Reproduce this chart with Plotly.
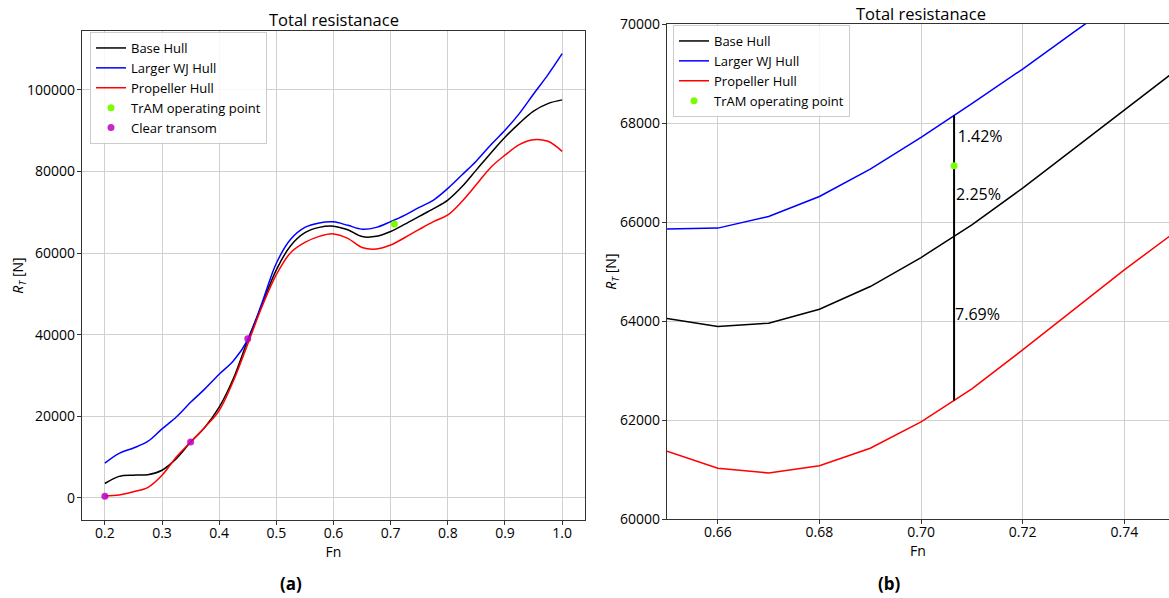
import plotly.graph_objects as go

# ---------------- data: panel (a) full range ----------------
fn_full = [0.200, 0.225, 0.250, 0.275, 0.300, 0.325, 0.350, 0.375, 0.400, 0.425,
           0.450, 0.475, 0.500, 0.525, 0.550, 0.575, 0.600, 0.625, 0.650, 0.675,
           0.700, 0.725, 0.750, 0.775, 0.800, 0.825, 0.850, 0.875, 0.900, 0.925,
           0.950, 0.975, 1.000]
base_full = [3500, 5250, 5550, 5650, 6750, 9600, 13650, 17300, 22200, 29300,
             38700, 47400, 55900, 61800, 65000, 66300, 66600, 65700, 64050, 64100,
             65280, 67080, 69000, 70900, 73000, 76300, 80400, 84500, 88400, 91800,
             94800, 96650, 97560]
wj_full = [8500, 10900, 12200, 13800, 16900, 19800, 23400, 26700, 30300, 33600,
           38700, 47800, 57500, 63400, 66300, 67400, 67650, 66800, 65860, 66300,
           67710, 69300, 71200, 73000, 75850, 79200, 82600, 86500, 90100, 94200,
           99000, 103700, 108900]
prop_full = [450, 700, 1500, 2500, 5500, 10000, 13650, 17300, 21400, 28700,
             37700, 46900, 54700, 60100, 62600, 64100, 64700, 63600, 61370, 61000,
             61970, 63820, 65800, 67700, 69340, 72700, 76800, 81000, 84000, 86600,
             87800, 87400, 84950]

tram_fn = [0.7065]
tram_rt = [67140]
clear_fn = [0.20, 0.35, 0.45]
clear_rt = [400, 13700, 39000]

# ---------------- data: panel (b) zoom ----------------
fn_zoom = [0.65, 0.66, 0.67, 0.68, 0.69, 0.70, 0.71, 0.72, 0.73, 0.74, 0.75]
base_zoom = [64053, 63891, 63960, 64242, 64699, 65285, 65945, 66687, 67475, 68270, 69050]
wj_zoom = [65859, 65879, 66113, 66517, 67071, 67709, 68390, 69091, 69830, 70560, 71300]
prop_zoom = [61374, 61030, 60935, 61083, 61434, 61966, 62632, 63420, 64230, 65036, 65800]

vline_fn = [0.7065, 0.7065]
vline_rt = [62399, 68152]

pct_labels = ["1.42%", "2.25%", "7.69%"]
pct_fn = [0.7072, 0.7069, 0.7067]
pct_rt = [67703, 66531, 64107]

x_ticks_a = [0.2, 0.3, 0.4, 0.5, 0.6, 0.7, 0.8, 0.9, 1.0]
y_ticks_a = [0, 20000, 40000, 60000, 80000, 100000]
x_ticks_b = [0.66, 0.68, 0.70, 0.72, 0.74]
y_ticks_b = [60000, 62000, 64000, 66000, 68000, 70000]

FONT = "Open Sans"
W, H = 1169, 598

fig = go.Figure()

# panel (a)
fig.add_trace(go.Scatter(x=fn_full, y=base_full, mode="lines", name="Base Hull",
                         line=dict(color="black", width=1.5, shape="spline"),
                         xaxis="x", yaxis="y", legend="legend"))
fig.add_trace(go.Scatter(x=fn_full, y=wj_full, mode="lines", name="Larger WJ Hull",
                         line=dict(color="#0000ff", width=1.5, shape="spline"),
                         xaxis="x", yaxis="y", legend="legend"))
fig.add_trace(go.Scatter(x=fn_full, y=prop_full, mode="lines", name="Propeller Hull",
                         line=dict(color="#ff0000", width=1.5, shape="spline"),
                         xaxis="x", yaxis="y", legend="legend"))
fig.add_trace(go.Scatter(x=tram_fn, y=tram_rt, mode="markers", name="TrAM operating point",
                         marker=dict(color="#7cfc00", size=7),
                         xaxis="x", yaxis="y", legend="legend"))
fig.add_trace(go.Scatter(x=clear_fn, y=clear_rt, mode="markers", name="Clear transom",
                         marker=dict(color="#bf00bf", size=7, opacity=0.85),
                         xaxis="x", yaxis="y", legend="legend"))

# panel (b)
fig.add_trace(go.Scatter(x=fn_zoom, y=base_zoom, mode="lines", name="Base Hull",
                         line=dict(color="black", width=1.5),
                         xaxis="x2", yaxis="y2", legend="legend2"))
fig.add_trace(go.Scatter(x=fn_zoom, y=wj_zoom, mode="lines", name="Larger WJ Hull",
                         line=dict(color="#0000ff", width=1.5),
                         xaxis="x2", yaxis="y2", legend="legend2"))
fig.add_trace(go.Scatter(x=fn_zoom, y=prop_zoom, mode="lines", name="Propeller Hull",
                         line=dict(color="#ff0000", width=1.5),
                         xaxis="x2", yaxis="y2", legend="legend2"))
fig.add_trace(go.Scatter(x=vline_fn, y=vline_rt, mode="lines", showlegend=False,
                         line=dict(color="black", width=2),
                         xaxis="x2", yaxis="y2"))
fig.add_trace(go.Scatter(x=tram_fn, y=tram_rt, mode="markers", name="TrAM operating point",
                         marker=dict(color="#7cfc00", size=7),
                         xaxis="x2", yaxis="y2", legend="legend2"))
fig.add_trace(go.Scatter(x=pct_fn, y=pct_rt, mode="text", text=pct_labels,
                         textposition="middle right", showlegend=False,
                         textfont=dict(family=FONT, size=16, color="black"),
                         xaxis="x2", yaxis="y2"))

axis_common = dict(showgrid=True, gridcolor="#d0d0d0", gridwidth=1,
                   showline=True, linecolor="#333333", linewidth=1.2,
                   ticks="outside", ticklen=4, tickcolor="#333333",
                   tickfont=dict(family=FONT, size=14, color="black"),
                   zeroline=False, automargin=False)

def px_x(p):
    return p / W

def px_y(p):
    return 1 - p / H

fig.update_layout(
    width=W, height=H,
    margin=dict(l=0, r=0, t=0, b=0),
    paper_bgcolor="white", plot_bgcolor="white",
    font=dict(family=FONT, size=13, color="black"),
    xaxis=dict(axis_common, domain=[px_x(82), px_x(585)], range=[0.16, 1.04],
               tickvals=x_ticks_a, tickformat=".1f", mirror=True, anchor="y",
               ticklabelstandoff=-4,
               title=dict(text="Fn", font=dict(family=FONT, size=14), standoff=0)),
    yaxis=dict(axis_common, domain=[px_y(520), px_y(31)], range=[-5450, 114450],
               tickvals=y_ticks_a, tickformat="d", mirror=True, anchor="x",
               ticklabelstandoff=-1,
               title=dict(text="<i>R</i><sub><i>T</i></sub> [N]",
                          font=dict(family=FONT, size=14), standoff=0)),
    xaxis2=dict(axis_common, domain=[px_x(667), 1.0], range=[0.65, 0.7488],
                tickvals=x_ticks_b, tickformat=".2f", mirror=True, anchor="y2",
                ticklabelstandoff=-4,
                title=dict(text="Fn", font=dict(family=FONT, size=14), standoff=0)),
    yaxis2=dict(axis_common, domain=[px_y(519.3), px_y(24)], range=[60000, 70000],
                tickvals=y_ticks_b, tickformat="d", mirror=False, anchor="x2",
                ticklabelstandoff=-1,
                title=dict(text="<i>R</i><sub><i>T</i></sub> [N]",
                           font=dict(family=FONT, size=14), standoff=0)),
    legend=dict(x=px_x(90), y=px_y(32), xanchor="left", yanchor="top",
                bgcolor="rgba(255,255,255,0.85)", bordercolor="#cccccc", borderwidth=1,
                font=dict(family=FONT, size=13), tracegroupgap=0, itemwidth=30),
    legend2=dict(x=px_x(673), y=px_y(25), xanchor="left", yanchor="top",
                 bgcolor="rgba(255,255,255,0.85)", bordercolor="#cccccc", borderwidth=1,
                 font=dict(family=FONT, size=13), tracegroupgap=0, itemwidth=30),
    showlegend=True,
    annotations=[
        dict(text="Total resistanace", x=px_x(333.5), y=px_y(20), xref="paper", yref="paper",
             showarrow=False, font=dict(family=FONT, size=16.5), xanchor="center", yanchor="middle"),
        dict(text="Total resistanace", x=px_x(921), y=px_y(14), xref="paper", yref="paper",
             showarrow=False, font=dict(family=FONT, size=16.5), xanchor="center", yanchor="middle"),
        dict(text="<b>(a)</b>", x=px_x(291), y=px_y(583), xref="paper", yref="paper",
             showarrow=False, font=dict(family=FONT, size=17), xanchor="center", yanchor="middle"),
        dict(text="<b>(b)</b>", x=px_x(889), y=px_y(583), xref="paper", yref="paper",
             showarrow=False, font=dict(family=FONT, size=17), xanchor="center", yanchor="middle"),
    ],
)

fig.write_html("out.html")
